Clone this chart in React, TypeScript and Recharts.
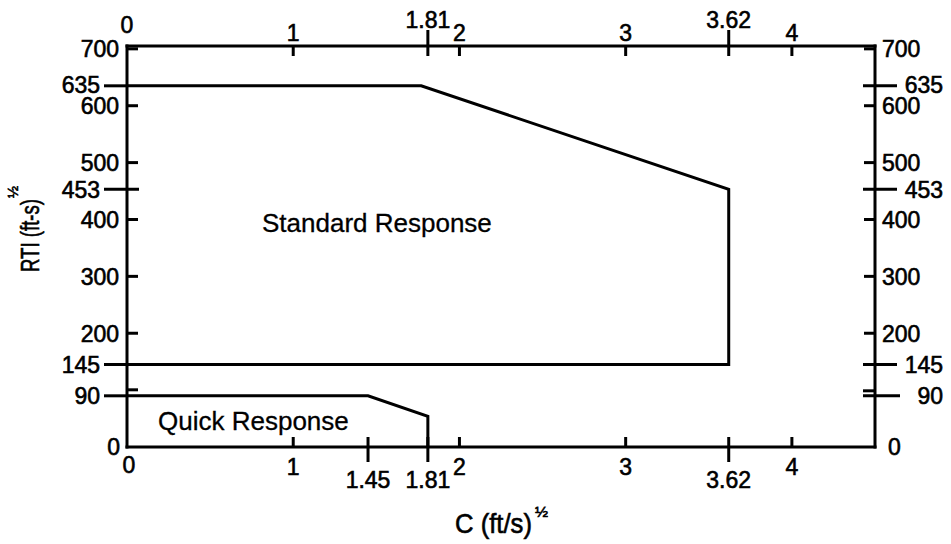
import { LineChart, Line, XAxis, YAxis } from 'recharts';

// boundary of each response region, C (ft/s)^1/2 against RTI (ft-s)^1/2
const standardResponse = [
  { c: 0, rti: 635 },
  { c: 1.77, rti: 635 },
  { c: 3.62, rti: 453 },
  { c: 3.62, rti: 145 },
  { c: 0, rti: 145 },
];
const quickResponse = [
  { c: 0, rti: 90 },
  { c: 1.45, rti: 90 },
  { c: 1.81, rti: 54 },
  { c: 1.81, rti: 0 },
];

const topTicks = [0, 1, 1.81, 2, 3, 3.62, 4];
const bottomTicks = [0, 1, 1.45, 1.81, 2, 3, 3.62, 4];
const rtiTicks = [0, 90, 145, 200, 300, 400, 453, 500, 600, 635, 700];
const markedC = [1.45, 1.81, 3.62];
const markedRti = [90, 145, 453, 635];

const FONT = "'Liberation Sans', Arial, sans-serif";
const tickText = {
  fontFamily: FONT, fontSize: 23, fill: '#000', stroke: '#000', strokeWidth: 0.6,
};
const SW = 3;

const Mark = ({ x1, y1, x2, y2 }: any) => (
  <line x1={x1} y1={y1} x2={x2} y2={y2} stroke="#000" strokeWidth={SW} />
);

const TopTick = ({ x, y, payload }: any) => {
  const v = payload.value;
  if (v === 0) return <text x={x} y={y - 21} dy="0.36em" textAnchor="middle" {...tickText}>0</text>;
  const marked = markedC.includes(v);
  return (
    <g>
      <Mark x1={x} x2={x} y1={marked ? y - 16 : y} y2={y + 10} />
      <text x={x} y={marked ? y - 26 : y - 13} dy="0.36em" textAnchor="middle" {...tickText}>{v}</text>
    </g>
  );
};

const BottomTick = ({ x, y, payload }: any) => {
  const v = payload.value;
  if (v === 0) return <text x={x + 2} y={y + 18} dy="0.36em" textAnchor="middle" {...tickText}>0</text>;
  const marked = markedC.includes(v);
  return (
    <g>
      <Mark x1={x} x2={x} y1={y - 10} y2={marked ? y + 15 : y} />
      <text x={x} y={marked ? y + 33 : y + 20} dy="0.36em" textAnchor="middle" {...tickText}>{v}</text>
    </g>
  );
};

const LeftTick = ({ x, y, payload }: any) => {
  const v = payload.value;
  if (v === 0) return <text x={x - 7} y={y} dy="0.36em" textAnchor="end" {...tickText}>0</text>;
  if (markedRti.includes(v)) {
    return (
      <g>
        <Mark x1={x - 23} x2={v === 453 ? x + 12 : x} y1={y} y2={y} />
        {v === 90 && <Mark x1={x} x2={x + 11} y1={y - 6} y2={y - 6} />}
        <text x={x - 27} y={v === 635 ? y - 1 : y} dy="0.36em" textAnchor="end" {...tickText}>{v}</text>
      </g>
    );
  }
  return (
    <g>
      <Mark x1={x} x2={x + 11} y1={y} y2={y} />
      <text x={x - 8} y={y} dy="0.36em" textAnchor="end" {...tickText}>{v}</text>
    </g>
  );
};

const RightTick = ({ x, y, payload }: any) => {
  const v = payload.value;
  if (v === 0) return <text x={x + 13} y={y} dy="0.36em" textAnchor="start" {...tickText}>0</text>;
  if (markedRti.includes(v)) {
    return (
      <g>
        <Mark x1={x - 12} x2={v === 90 ? x + 25 : x + 22} y1={y} y2={y} />
        {v === 90 && <Mark x1={x - 12} x2={x} y1={y - 5} y2={y - 5} />}
        <text x={x + 68} y={v === 635 ? y - 1 : y} dy="0.36em" textAnchor="end" {...tickText}>{v}</text>
      </g>
    );
  }
  return (
    <g>
      <Mark x1={x - 11} x2={x} y1={y} y2={y} />
      <text x={x + 7} y={y} dy="0.36em" textAnchor="start" {...tickText}>{v}</text>
    </g>
  );
};

const axisLine = { stroke: '#000', strokeWidth: SW, strokeLinecap: 'square' as const };
const titleText = { fontFamily: FONT, fill: '#000', stroke: '#000', strokeWidth: 0.6 };

export default function App() {
  return (
    <div style={{ position: 'absolute', left: 0, top: 0, background: '#fff' }}>
      <LineChart width={951} height={544} margin={{ top: 0, right: 0, bottom: 0, left: 0 }}>
        <XAxis
          xAxisId="b" orientation="bottom" type="number" dataKey="c" domain={[0, 4.5]}
          allowDataOverflow ticks={bottomTicks} interval={0} height={97}
          tickSize={0} tickMargin={0} tickLine={false} axisLine={axisLine} tick={BottomTick}
        />
        <XAxis
          xAxisId="t" orientation="top" type="number" dataKey="c" domain={[0, 4.5]}
          allowDataOverflow ticks={topTicks} interval={0} height={46}
          tickSize={0} tickMargin={0} tickLine={false} axisLine={axisLine} tick={TopTick}
        />
        <YAxis
          yAxisId="l" orientation="left" type="number" domain={[0, 705]}
          allowDataOverflow ticks={rtiTicks} interval={0} width={127}
          tickSize={0} tickMargin={0} tickLine={false} axisLine={axisLine} tick={LeftTick}
        />
        <YAxis
          yAxisId="r" orientation="right" type="number" domain={[0, 705]}
          allowDataOverflow ticks={rtiTicks} interval={0} width={76}
          tickSize={0} tickMargin={0} tickLine={false} axisLine={axisLine} tick={RightTick}
        />
        <Line
          xAxisId="b" yAxisId="l" data={standardResponse} dataKey="rti" type="linear"
          stroke="#000" strokeWidth={SW} dot={false} activeDot={false} isAnimationActive={false}
        />
        <Line
          xAxisId="b" yAxisId="l" data={quickResponse} dataKey="rti" type="linear"
          stroke="#000" strokeWidth={SW} dot={false} activeDot={false} isAnimationActive={false}
        />
        <text x={262} y={223} dy="0.36em" fontFamily={FONT} fontSize={26} fill="#000" stroke="#000" strokeWidth={0.3}>
          Standard Response
        </text>
        <text x={158} y={421} dy="0.36em" fontFamily={FONT} fontSize={26} fill="#000" stroke="#000" strokeWidth={0.3}>
          Quick Response
        </text>
        <text x={455} y={533} fontSize={27} textLength={77} lengthAdjust="spacingAndGlyphs" {...titleText}>
          C (ft/s)
        </text>
        <text x={535} y={517} fontSize={14} textLength={13} lengthAdjust="spacingAndGlyphs" {...titleText}>
          ½
        </text>
        <g transform="translate(39,230) rotate(-90)">
          <text x={-42} y={0} fontSize={26} textLength={73} lengthAdjust="spacingAndGlyphs" {...titleText}>
            RTI (ft-s)
          </text>
          <text x={32} y={-21} fontSize={14} textLength={12} lengthAdjust="spacingAndGlyphs" {...titleText}>
            ½
          </text>
        </g>
      </LineChart>
    </div>
  );
}
